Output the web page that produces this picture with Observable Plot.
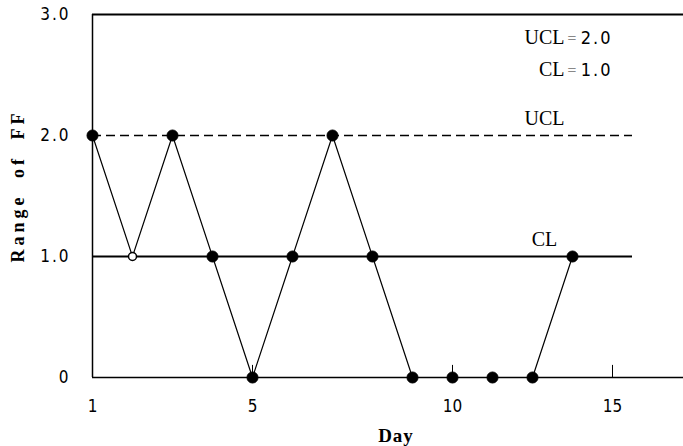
<!DOCTYPE html>
<html>
<head>
<meta charset="utf-8">
<script src="https://cdn.jsdelivr.net/npm/d3@7"></script>
<script src="https://cdn.jsdelivr.net/npm/@observablehq/plot@0.6"></script>
<style>
  html, body { margin: 0; padding: 0; background: #fff; }
  #chart svg { display: block; }
</style>
</head>
<body>
<div id="chart"></div>
<script>
// ---- data ----
const days = [1, 2, 3, 4, 5, 6, 7, 8, 9, 10, 11, 12, 13];
const ranges = [2, 1, 2, 1, 0, 1, 2, 1, 0, 0, 0, 0, 1];
const openDays = [2];
const limitNames = ["UCL", "CL"];
const limitValues = [2.0, 1.0];
const limitEndDay = 14.5;
const xTickDays = [1, 5, 10, 14];
const xTickLabels = ["1", "5", "10", "15"];
const yTicks = [0, 1, 2, 3];
const yTickLabels = ["0", "1.0", "2.0", "3.0"];
const legendY = [2.76, 2.49];
const xTitle = "Day";
const yTitle = "Range of FF";

const points = days.map((d, i) => ({day: d, range: ranges[i], open: openDays.includes(d)}));
const limits = limitNames.map((n, i) => ({name: n, value: limitValues[i], ly: legendY[i]}));

const serif = "'Liberation Serif', 'DejaVu Serif', serif";
const narrow = "'Liberation Sans Narrow', 'DejaVu Sans Condensed', 'Liberation Sans', sans-serif";

const chart = Plot.plot({
  width: 683,
  height: 446,
  marginLeft: 92,
  marginRight: 0,
  marginTop: 14,
  marginBottom: 69,
  x: {domain: [1, 15.775], axis: null},
  y: {domain: [0, 3], axis: null},
  marks: [
    // frame
    Plot.ruleX([1], {stroke: "black", strokeWidth: 1.5}),
    Plot.ruleY([3], {stroke: "black", strokeWidth: 2}),
    Plot.ruleY([0], {stroke: "black", strokeWidth: 1.5}),
    // inward ticks on x axis
    Plot.ruleX(xTickDays.slice(1), {y1: 0, y2: 0.1, stroke: "black", strokeWidth: 1}),
    // axes labels
    Plot.axisX(xTickDays, {tickSize: 0, tickPadding: 22, label: null, tickFormat: d => xTickLabels[xTickDays.indexOf(d)],
      fontSize: 17, fontFamily: narrow, ariaDescription: "xlabels"}),
    Plot.axisY(yTicks, {tickSize: 0, tickPadding: 22, label: null, tickFormat: d => yTickLabels[yTicks.indexOf(d)],
      fontSize: 17, fontFamily: narrow, ariaDescription: "ylabels"}),
    // control lines
    Plot.ruleY([limits[0]], {y: "value", x1: 1, x2: limitEndDay, stroke: "black", strokeWidth: 1.4, strokeDasharray: "9,5"}),
    Plot.ruleY([limits[1]], {y: "value", x1: 1, x2: limitEndDay, stroke: "black", strokeWidth: 2}),
    Plot.text(limits, {x: 12.3, y: "value", text: "name", dy: -11, lineAnchor: "bottom", fontFamily: serif, fontSize: 20}),
    // legend in upper right
    Plot.text(limits, {x: 12.8, y: "ly", text: "name", textAnchor: "end", lineAnchor: "bottom", fontFamily: serif, fontSize: 20}),
    Plot.text(limits, {x: 12.86, y: "ly", text: d => "=", textAnchor: "start", lineAnchor: "bottom", dy: -2, fontFamily: narrow, fontSize: 13, fill: "#888"}),
    Plot.text(limits, {x: 14.0, y: "ly", text: d => d.value.toFixed(1), textAnchor: "end", lineAnchor: "bottom", fontFamily: narrow, fontSize: 18, ariaDescription: "legendvals"}),
    // data
    Plot.line(points, {x: "day", y: "range", stroke: "black", strokeWidth: 1.2}),
    Plot.dot(points.filter(d => !d.open), {x: "day", y: "range", r: 5.5, fill: "black", stroke: "black", strokeWidth: 1}),
    Plot.dot(points.filter(d => d.open), {x: "day", y: "range", r: 4, fill: "white", stroke: "black", strokeWidth: 1.5}),
    // titles
    Plot.text([xTitle], {frameAnchor: "bottom", dx: 8, dy: 64, lineAnchor: "bottom", fontFamily: serif, fontWeight: "bold", fontSize: 19, ariaDescription: "xtitle"}),
    Plot.text([yTitle], {frameAnchor: "left", textAnchor: "middle", lineAnchor: "bottom", rotate: -90, dx: -69, dy: -10, fontFamily: serif, fontWeight: "bold", fontSize: 18, ariaDescription: "ytitle"})
  ]
});

const svg = d3.select(chart);
svg.selectAll("g[aria-description='ylabels'] text, g[aria-description='legendvals'] text").style("letter-spacing", "2px");
svg.selectAll("g[aria-description='ytitle'] text").style("letter-spacing", "4px").style("word-spacing", "7px");
svg.selectAll("g[aria-description='xtitle'] text").style("letter-spacing", "1px");
document.getElementById("chart").appendChild(chart);
</script>
</body>
</html>
